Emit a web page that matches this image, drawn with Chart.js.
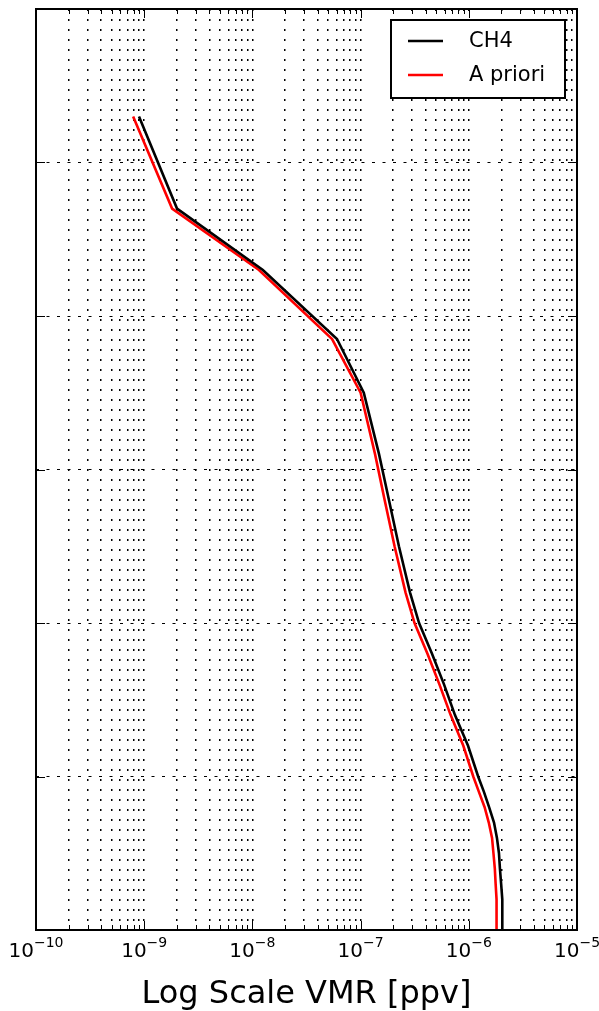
<!DOCTYPE html>
<html>
<head>
<meta charset="utf-8">
<title>CH4 profile</title>
<script src="https://cdn.jsdelivr.net/npm/chart.js@4"></script>
<style>
    html, body { margin: 0; padding: 0; background: #fff; }
    canvas { display: block; }
</style>
</head>
<body>
<canvas id="profileChart" width="599" height="1011"></canvas>
<script>
// Altitude levels [km] shared by both profiles
const altitudes = [0, 1, 2, 3, 4, 5, 6, 7, 8, 9, 10, 12, 14, 16, 18, 20, 22, 25, 28, 31, 35, 38.5, 43, 47, 53];

// Retrieved CH4 volume mixing ratio [ppv]
const ch4Vmr = [2.07e-6, 2.05e-6, 2.03e-6, 1.99e-6, 1.94e-6, 1.90e-6, 1.82e-6, 1.71e-6, 1.54e-6, 1.38e-6,
                1.22e-6, 9.84e-7, 7.45e-7, 5.90e-7, 4.57e-7, 3.47e-7, 2.86e-7, 2.26e-7, 1.83e-7, 1.48e-7,
                1.07e-7, 6.05e-8, 1.25e-8, 2.01e-9, 8.95e-10];

// A priori profile [ppv]
const aprioriVmr = [1.82e-6, 1.81e-6, 1.80e-6, 1.77e-6, 1.74e-6, 1.69e-6, 1.64e-6, 1.53e-6, 1.40e-6, 1.24e-6,
                    1.10e-6, 8.90e-7, 6.80e-7, 5.35e-7, 4.15e-7, 3.15e-7, 2.60e-7, 2.06e-7, 1.67e-7, 1.36e-7,
                    1.00e-7, 5.45e-8, 1.15e-8, 1.81e-9, 7.90e-10];

const xExponents = [-10, -9, -8, -7, -6, -5];   // decade tick labels
const yTicks = [10, 20, 30, 40, 50];            // inner altitude ticks (unlabelled)
const seriesNames = ['CH4', 'A priori'];
const seriesColors = ['#000000', '#ff0000'];

// every 1..9 x 10^n position for the log axis grid
const xTickValues = [];
xExponents.forEach((e, i) => {
    for (let m = 1; m <= 9; m++) {
        if (i === xExponents.length - 1 && m > 1) break;
        xTickValues.push(m * Math.pow(10, e));
    }
});

const FONT = '"DejaVu Sans", sans-serif';

function toPoints(values) {
    return values.map((v, i) => ({ x: v, y: altitudes[i] }));
}

function isDecade(v) {
    const l = Math.log10(v);
    return Math.abs(l - Math.round(l)) < 1e-9;
}

// matplotlib-like frame, inward ticks, mathtext labels and boxed legend
const framePlugin = {
    id: 'framePlugin',
    afterDatasetsDraw(chart) {
        const { ctx, chartArea: a, scales } = chart;
        const xs = scales.x, ys = scales.y;
        ctx.save();
        ctx.strokeStyle = '#000';
        ctx.lineWidth = 1;
        ctx.setLineDash([]);
        xTickValues.forEach(v => {
            const px = Math.round(xs.getPixelForValue(v)) + 0.5;
            const len = isDecade(v) ? 9 : 5;
            ctx.beginPath();
            ctx.moveTo(px, a.bottom); ctx.lineTo(px, a.bottom - len);
            ctx.moveTo(px, a.top); ctx.lineTo(px, a.top + len);
            ctx.stroke();
        });
        yTicks.forEach(v => {
            const py = Math.round(ys.getPixelForValue(v)) + 0.5;
            ctx.beginPath();
            ctx.moveTo(a.left, py); ctx.lineTo(a.left + 9, py);
            ctx.moveTo(a.right, py); ctx.lineTo(a.right - 9, py);
            ctx.stroke();
        });

        // frame
        ctx.lineWidth = 2;
        ctx.strokeRect(a.left, a.top, a.right - a.left, a.bottom - a.top);

        // tick labels 10^n
        ctx.fillStyle = '#000';
        ctx.textBaseline = 'alphabetic';
        xExponents.forEach(e => {
            const px = xs.getPixelForValue(Math.pow(10, e));
            ctx.font = '20px ' + FONT;
            const wBase = ctx.measureText('10').width;
            ctx.font = '14px ' + FONT;
            const sup = String(e).replace('-', '\u2212');
            const wSup = ctx.measureText(sup).width;
            const x0 = px - (wBase + wSup) / 2;
            ctx.font = '20px ' + FONT;
            ctx.fillText('10', x0, 957);
            ctx.font = '14px ' + FONT;
            ctx.fillText(sup, x0 + wBase, 947);
        });

        // axis title
        ctx.font = '32px ' + FONT;
        ctx.textAlign = 'center';
        ctx.fillText('Log Scale VMR [ppv]', (a.left + a.right) / 2, 1003);

        // legend box
        const lx = 391, ly = 20, lw = 174, lh = 78;
        ctx.fillStyle = '#fff';
        ctx.fillRect(lx, ly, lw, lh);
        ctx.lineWidth = 2;
        ctx.strokeStyle = '#000';
        ctx.strokeRect(lx, ly, lw, lh);
        ctx.textAlign = 'left';
        ctx.textBaseline = 'middle';
        ctx.font = '21px ' + FONT;
        chart.data.datasets.forEach((ds, i) => {
            const rowY = ly + 21 + i * 34;
            ctx.strokeStyle = ds.borderColor;
            ctx.lineWidth = 2.5;
            ctx.beginPath();
            ctx.moveTo(408, rowY); ctx.lineTo(443, rowY);
            ctx.stroke();
            ctx.fillStyle = '#000';
            ctx.fillText(ds.label, 469, rowY + 1);
        });
        ctx.restore();
    }
};

new Chart(document.getElementById('profileChart'), {
    type: 'scatter',
    data: {
        datasets: [
            {
                label: seriesNames[0],
                data: toPoints(ch4Vmr),
                borderColor: seriesColors[0],
                backgroundColor: seriesColors[0],
                borderWidth: 2.6,
                showLine: true,
                pointRadius: 0,
                tension: 0
            },
            {
                label: seriesNames[1],
                data: toPoints(aprioriVmr),
                borderColor: seriesColors[1],
                backgroundColor: seriesColors[1],
                borderWidth: 2.6,
                showLine: true,
                pointRadius: 0,
                tension: 0
            }
        ]
    },
    options: {
        responsive: false,
        animation: false,
        devicePixelRatio: 1,
        layout: { padding: { left: 36, right: 22, top: 9, bottom: 81 } },
        plugins: {
            legend: { display: false },
            tooltip: { enabled: false }
        },
        scales: {
            x: {
                type: 'logarithmic',
                min: 1e-10,
                max: 1e-5,
                afterBuildTicks: axis => {
                    axis.ticks = xTickValues.map(v => ({ value: v }));
                },
                ticks: { display: false },
                grid: { color: '#000', lineWidth: 1.5, drawTicks: false },
                border: { display: false, dash: [2, 8] }
            },
            y: {
                type: 'linear',
                min: 0,
                max: 60,
                ticks: { display: false, stepSize: 10 },
                grid: { color: '#000', lineWidth: 1, drawTicks: false },
                border: { display: false, dash: [3, 7.5] }
            }
        }
    },
    plugins: [framePlugin]
});
</script>
</body>
</html>
